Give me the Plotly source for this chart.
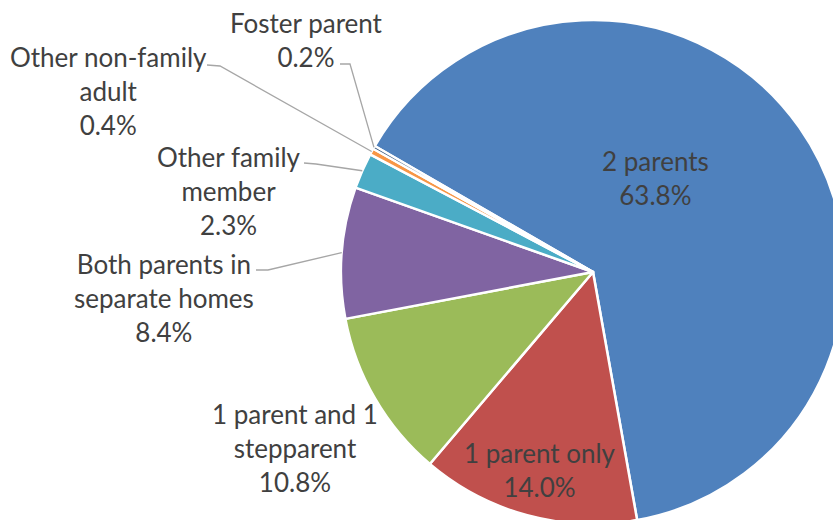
import math
import plotly.graph_objects as go

# ---- data ----
categories = ["2 parents", "1 parent only", "1 parent and 1 stepparent",
              "Both parents in separate homes", "Other family member",
              "Other non-family adult", "Foster parent"]
label_text = ["2 parents", "1 parent only", "1 parent and 1<br>stepparent",
              "Both parents in<br>separate homes", "Other family<br>member",
              "Other non-family<br>adult", "Foster parent"]
values = [63.8, 14.0, 10.8, 8.4, 2.3, 0.4, 0.2]
colors = ["#4F81BD", "#C0504D", "#9BBB59", "#8064A2", "#4BACC6", "#F79646", "#2C4D75"]

# ---- layout constants (pixels) ----
W, H = 860, 530
CX, CY, R = 593, 272, 252
ROT = -60

def px(x):
    return x / W

def py(y):
    return 1 - y / H

fig = go.Figure()
fig.add_trace(go.Pie(
    values=values, labels=categories, sort=False, direction="clockwise",
    rotation=ROT, textinfo="none", hoverinfo="label+percent",
    marker=dict(colors=colors, line=dict(color="white", width=2.5)),
    domain=dict(x=[px(CX - R), px(CX + R)], y=[py(CY + R), py(CY - R)]),
    showlegend=False,
))

# label positions (pixel centres) and leader-line stubs
label_pos = [(655, 178), (540, 470), (295, 448), (164, 298), (229, 191), (108, 91), (306, 40)]
stubs = {3: [(256, 270), (268, 270)], 4: [(304, 163), (316, 164)],
         5: [(207, 65), (220, 66)], 6: [(340, 64), (350, 64)]}

total = sum(values)
cum = 0
mid_angles = []
for v in values:
    mid_angles.append(ROT + (cum + v / 2) / total * 360)
    cum += v

annotations = []
shapes = []
for i, (name, v) in enumerate(zip(label_text, values)):
    x, y = label_pos[i]
    annotations.append(dict(
        x=px(x), y=py(y), xref="paper", yref="paper",
        text=f"{name}<br>{v:.1f}%", showarrow=False,
        xanchor="center", yanchor="middle", align="center",
        font=dict(family="Lato", size=26, color="#404040"),
    ))
    if i in stubs:
        a = math.radians(mid_angles[i])
        ex, ey = CX + R * math.sin(a), CY - R * math.cos(a)
        pts = stubs[i] + [(ex, ey)]
        path = "M " + " L ".join(f"{px(p[0])},{py(p[1])}" for p in pts)
        shapes.append(dict(type="path", path=path, xref="paper", yref="paper",
                           line=dict(color="#A6A6A6", width=1.3), layer="above"))

fig.update_layout(
    width=W, height=H, margin=dict(l=0, r=0, t=0, b=0),
    paper_bgcolor="white", plot_bgcolor="white",
    annotations=annotations, shapes=shapes,
)

post = """
var gd = document.getElementById('{plot_id}');
document.body.style.margin = '0';
document.documentElement.style.overflow = 'hidden';
document.body.style.overflow = 'hidden';
var p = gd.parentElement;
p.style.width = '833px'; p.style.height = '520px'; p.style.overflow = 'hidden';
"""
fig.write_html("out.html", post_script=post, config={"displayModeBar": False})
